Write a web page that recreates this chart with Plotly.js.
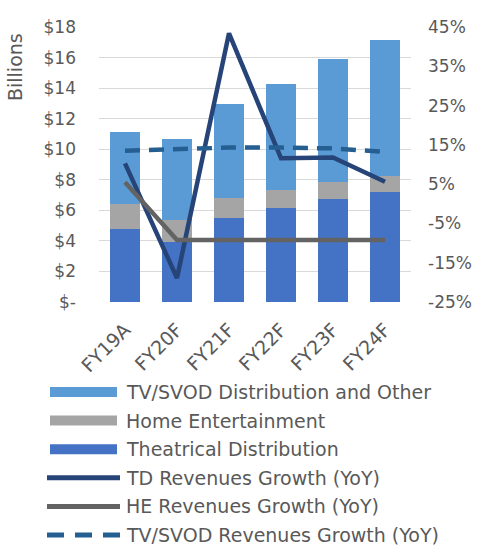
<!DOCTYPE html>
<html>
<head>
<meta charset="utf-8">
<script src="https://cdn.plot.ly/plotly-3.0.1.min.js"></script>
<style>html,body{margin:0;padding:0;background:#fff;}#chart{width:480px;height:548px;}</style>
</head>
<body>
<div id="chart"></div>
<script>
var categories = ["FY19A", "FY20F", "FY21F", "FY22F", "FY23F", "FY24F"];
var theatrical = [4.78, 3.90, 5.48, 6.13, 6.74, 7.22];
var homeEnt = [1.63, 1.47, 1.35, 1.20, 1.13, 1.03];
var tvSvod = [4.74, 5.28, 6.11, 6.97, 8.01, 8.90];
var tdGrowth = [10.3, -18.9, 43.4, 11.6, 11.8, 5.6];
var heGrowth = [5.5, -9.2, -9.2, -9.2, -9.2, -9.2];
var tvGrowth = [13.5, 13.9, 14.3, 14.3, 14.1, 13.2];
var leftTickVals = [0, 2, 4, 6, 8, 10, 12, 14, 16, 18];
var leftTickText = ["$-", "$2", "$4", "$6", "$8", "$10", "$12", "$14", "$16", "$18"];
var rightTickVals = [-25, -15, -5, 5, 15, 25, 35, 45];
var rightTickText = ["-25%", "-15%", "-5%", "5%", "15%", "25%", "35%", "45%"];

var FONT = "DejaVu Sans, sans-serif";
var GREY = "#595959";

var W = 480, H = 548;
var M = {l: 99, r: 69, t: 27, b: 246};
var PW = W - M.l - M.r, PH = H - M.t - M.b;
function px(x) { return (x - M.l) / PW; }
function py(y) { return (H - M.b - y) / PH; }

var series = [
  {name: "Theatrical Distribution", y: theatrical, color: "#4472C4"},
  {name: "Home Entertainment", y: homeEnt, color: "#A5A5A5"},
  {name: "TV/SVOD Distribution and Other", y: tvSvod, color: "#5B9BD5"}
];
var lines = [
  {name: "TD Revenues Growth (YoY)", y: tdGrowth, color: "#264478", dash: "solid"},
  {name: "HE Revenues Growth (YoY)", y: heGrowth, color: "#636363", dash: "solid"},
  {name: "TV/SVOD Revenues Growth (YoY)", y: tvGrowth, color: "#255E91", dash: "15px,9px"}
];

var data = [];
series.forEach(function (s) {
  data.push({type: "bar", name: s.name, x: categories, y: s.y, marker: {color: s.color}});
});
lines.forEach(function (l) {
  data.push({type: "scatter", mode: "lines", name: l.name, x: categories, y: l.y, yaxis: "y2",
             line: {color: l.color, width: 4.5, dash: l.dash}});
});

/* legend drawn manually: order as in reference */
var legendItems = [
  {kind: "bar", s: series[2]}, {kind: "bar", s: series[1]}, {kind: "bar", s: series[0]},
  {kind: "line", s: lines[0]}, {kind: "line", s: lines[1]}, {kind: "line", s: lines[2]}
];
var shapes = [], annotations = [];
legendItems.forEach(function (it, i) {
  var cy = 392 + 28.6 * i;
  if (it.kind === "bar") {
    shapes.push({type: "rect", xref: "paper", yref: "paper", x0: px(50), x1: px(117),
                 y0: py(cy - 5), y1: py(cy + 5), fillcolor: it.s.color, line: {width: 0}});
  } else {
    shapes.push({type: "line", xref: "paper", yref: "paper", x0: px(47), x1: px(120),
                 y0: py(cy), y1: py(cy),
                 line: {color: it.s.color, width: 5, dash: it.s.dash === "solid" ? "solid" : "17px,11px"}});
  }
  annotations.push({text: it.s.name, xref: "paper", yref: "paper", x: px(124), y: py(cy),
                    xanchor: "left", yanchor: "middle", showarrow: false,
                    font: {size: 19, color: GREY, family: FONT}});
});
annotations.push({text: "Billions", xref: "paper", yref: "paper", x: px(15), y: py(67),
                  showarrow: false, textangle: -90, font: {size: 19, color: GREY, family: FONT},
                  xanchor: "center", yanchor: "middle"});

var layout = {
  width: W, height: H,
  margin: M,
  paper_bgcolor: "#fff", plot_bgcolor: "#fff",
  barmode: "stack", bargap: 0.435,
  showlegend: false,
  font: {family: FONT, size: 16, color: GREY},
  xaxis: {tickangle: -45, tickfont: {size: 19, color: GREY}, showline: false, ticks: "",
          showgrid: false, zeroline: false, automargin: false, ticklabelstandoff: 12},
  yaxis: {range: [0, 18], tickvals: leftTickVals, ticktext: leftTickText, showgrid: true,
          gridcolor: "#D9D9D9", gridwidth: 1, zeroline: false, showline: false, ticks: "",
          automargin: false, ticklabelstandoff: 22, tickfont: {size: 17, color: GREY}},
  yaxis2: {range: [-25, 45], overlaying: "y", side: "right", tickvals: rightTickVals,
           ticktext: rightTickText, showgrid: false, zeroline: false, showline: false, ticks: "",
           automargin: false, ticklabelstandoff: 16, tickfont: {size: 17, color: GREY}},
  shapes: shapes,
  annotations: annotations
};

Plotly.newPlot("chart", data, layout, {displayModeBar: false, staticPlot: true});
</script>
</body>
</html>
